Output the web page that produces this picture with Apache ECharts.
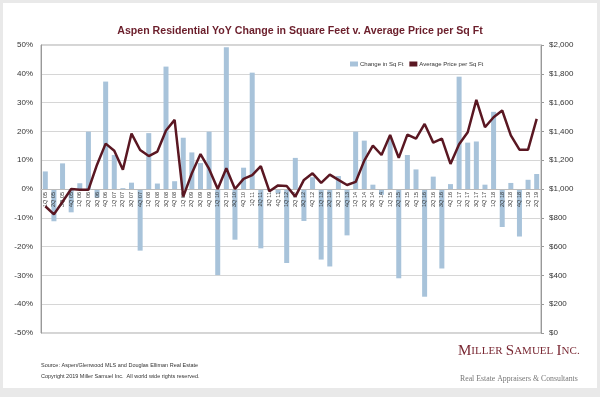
<!DOCTYPE html>
<html>
<head>
<meta charset="utf-8">
<script src="https://cdn.jsdelivr.net/npm/echarts@6/dist/echarts.min.js"></script>
<style>
  html, body { margin: 0; padding: 0; background: #e9e9e9; }
  #chart { width: 600px; height: 397px; }
</style>
</head>
<body>
<div id="chart"></div>
<script>
// quarters, 1Q 05 .. 2Q 19
var quarters = [
  '1Q 05', '2Q 05', '3Q 05', '4Q 05', '1Q 06', '2Q 06', '3Q 06', '4Q 06',
  '1Q 07', '2Q 07', '3Q 07', '4Q 07', '1Q 08', '2Q 08', '3Q 08', '4Q 08',
  '1Q 09', '2Q 09', '3Q 09', '4Q 09', '1Q 10', '2Q 10', '3Q 10', '4Q 10',
  '1Q 11', '2Q 11', '3Q 11', '4Q 11', '1Q 12', '2Q 12', '3Q 12', '4Q 12',
  '1Q 13', '2Q 13', '3Q 13', '4Q 13', '1Q 14', '2Q 14', '3Q 14', '4Q 14',
  '1Q 15', '2Q 15', '3Q 15', '4Q 15', '1Q 16', '2Q 16', '3Q 16', '4Q 16',
  '1Q 17', '2Q 17', '3Q 17', '4Q 17', '1Q 18', '2Q 18', '3Q 18', '4Q 18',
  '1Q 19', '2Q 19'
]
// YoY change in square feet (%)
var sqftChange = [
  6.1, -11.2, 8.9, -8.1, 2.0, 19.9, -3.0, 37.3,
  11.8, 0.3, 2.2, -21.4, 19.4, 1.9, 42.5, 2.7,
  17.8, 12.7, 9.0, 19.9, -29.9, 49.2, -17.6, 7.4,
  40.4, -20.6, -0.5, -1.5, -25.7, 10.8, -11.1, 4.1,
  -24.5, -26.9, 4.5, -16.1, 19.9, 16.8, 1.5, -2.0,
  17.4, -31.0, 11.8, 6.8, -37.4, 4.3, -27.6, 1.7,
  39.0, 16.1, 16.5, 1.5, 26.8, -13.2, 2.1, -16.5,
  3.2, 5.2
]
// average price per sq ft ($)
var avgPpsf = [
  880, 824, 912, 1000, 995, 995, 1169, 1315,
  1266, 1134, 1385, 1271, 1229, 1260, 1406, 1480,
  947, 1109, 1243, 1139, 1000, 1144, 1000, 1070,
  1097, 1158, 984, 1025, 1021, 947, 1063, 1109,
  1042, 1100, 1063, 1028, 1049, 1197, 1301, 1236,
  1375, 1216, 1378, 1350, 1452, 1322, 1350, 1174,
  1311, 1394, 1619, 1429, 1498, 1545, 1373, 1273,
  1273, 1487
]

var chart = echarts.init(document.getElementById('chart'))
var maroon = '#5a1722'
var option = {
  backgroundColor: '#e9e9e9',
  animation: false,
  graphic: [
    { type: 'rect', z: -10, shape: { x: 3, y: 3, width: 594, height: 385 }, style: { fill: '#fff' } },
    { type: 'text', left: 41, top: 362, style: { text: 'Source: Aspen/Glenwood MLS and Douglas Elliman Real Estate', fontSize: 5.5, fill: '#333', fontFamily: 'Liberation Sans' } },
    { type: 'text', left: 41, top: 373, style: { text: 'Copyright 2019 Miller Samuel Inc.  All world wide rights reserved.', fontSize: 5.5, fill: '#333', fontFamily: 'Liberation Sans' } },
    {
      type: 'text', left: 458, top: 344,
      style: {
        text: '{b|M}{s|ILLER} {b|S}{s|AMUEL} {b|I}{s|NC.}',
        rich: {
          b: { fontSize: 15, fontFamily: 'Liberation Serif', fill: '#7a2934' },
          s: { fontSize: 11, fontFamily: 'Liberation Serif', fill: '#7a2934' }
        }
      }
    },
    { type: 'text', left: 460, top: 375, style: { text: 'Real Estate Appraisers & Consultants', fontSize: 7.8, fill: '#777', fontFamily: 'Liberation Serif' } }
  ],
  title: {
    text: 'Aspen Residential YoY Change in Square Feet v. Average Price per Sq Ft',
    left: 'center',
    top: 21,
    textStyle: { fontSize: 10.6, fontWeight: 'bold', color: '#6b1e2b', fontFamily: 'Liberation Sans' }
  },
  legend: {
    top: 56,
    left: 345,
    itemGap: 6,
    itemWidth: 8,
    itemHeight: 5,
    textStyle: { fontSize: 6, color: '#333', fontFamily: 'Liberation Sans', padding: [0, 0, 0, -3] },
    data: [
      { name: 'Change in Sq Ft', icon: 'rect' },
      { name: 'Average Price per Sq Ft', icon: 'rect' }
    ]
  },
  grid: { left: 41, right: 59, top: 45, bottom: 64, show: true, borderColor: '#aaa', borderWidth: 1 },
  xAxis: {
    type: 'category',
    data: quarters,
    offset: -144,
    z: 4,
    axisLine: { onZero: false, lineStyle: { color: '#bbb' } },
    axisTick: { show: false },
    axisLabel: { rotate: 90, fontSize: 5.5, color: '#333', interval: 0, margin: 3 }
  },
  yAxis: [
    {
      type: 'value', min: -50, max: 50, interval: 10,
      axisLine: { show: true, lineStyle: { color: '#999' } },
      axisTick: { show: false },
      axisLabel: { formatter: '{value}%', fontSize: 8, color: '#333', fontFamily: 'Liberation Sans' },
      splitLine: { lineStyle: { color: '#d6d6d6' } }
    },
    {
      type: 'value', min: 0, max: 2000, interval: 200,
      axisLine: { show: true, lineStyle: { color: '#999' } },
      axisTick: { show: true, length: 3, inside: false, lineStyle: { color: '#999' } },
      axisLabel: {
        formatter: function (v) { return '$' + v.toLocaleString('en-US') },
        fontSize: 8, color: '#333', fontFamily: 'Liberation Sans'
      },
      splitLine: { show: false }
    }
  ],
  series: [
    {
      name: 'Change in Sq Ft',
      type: 'bar',
      data: sqftChange,
      barWidth: 5,
      itemStyle: { color: '#a8c3da' }
    },
    {
      name: 'Average Price per Sq Ft',
      type: 'line',
      yAxisIndex: 1,
      data: avgPpsf,
      symbol: 'none',
      z: 5,
      lineStyle: { color: maroon, width: 2.5 },
      itemStyle: { color: maroon }
    }
  ]
}
chart.setOption(option)
</script>
</body>
</html>
